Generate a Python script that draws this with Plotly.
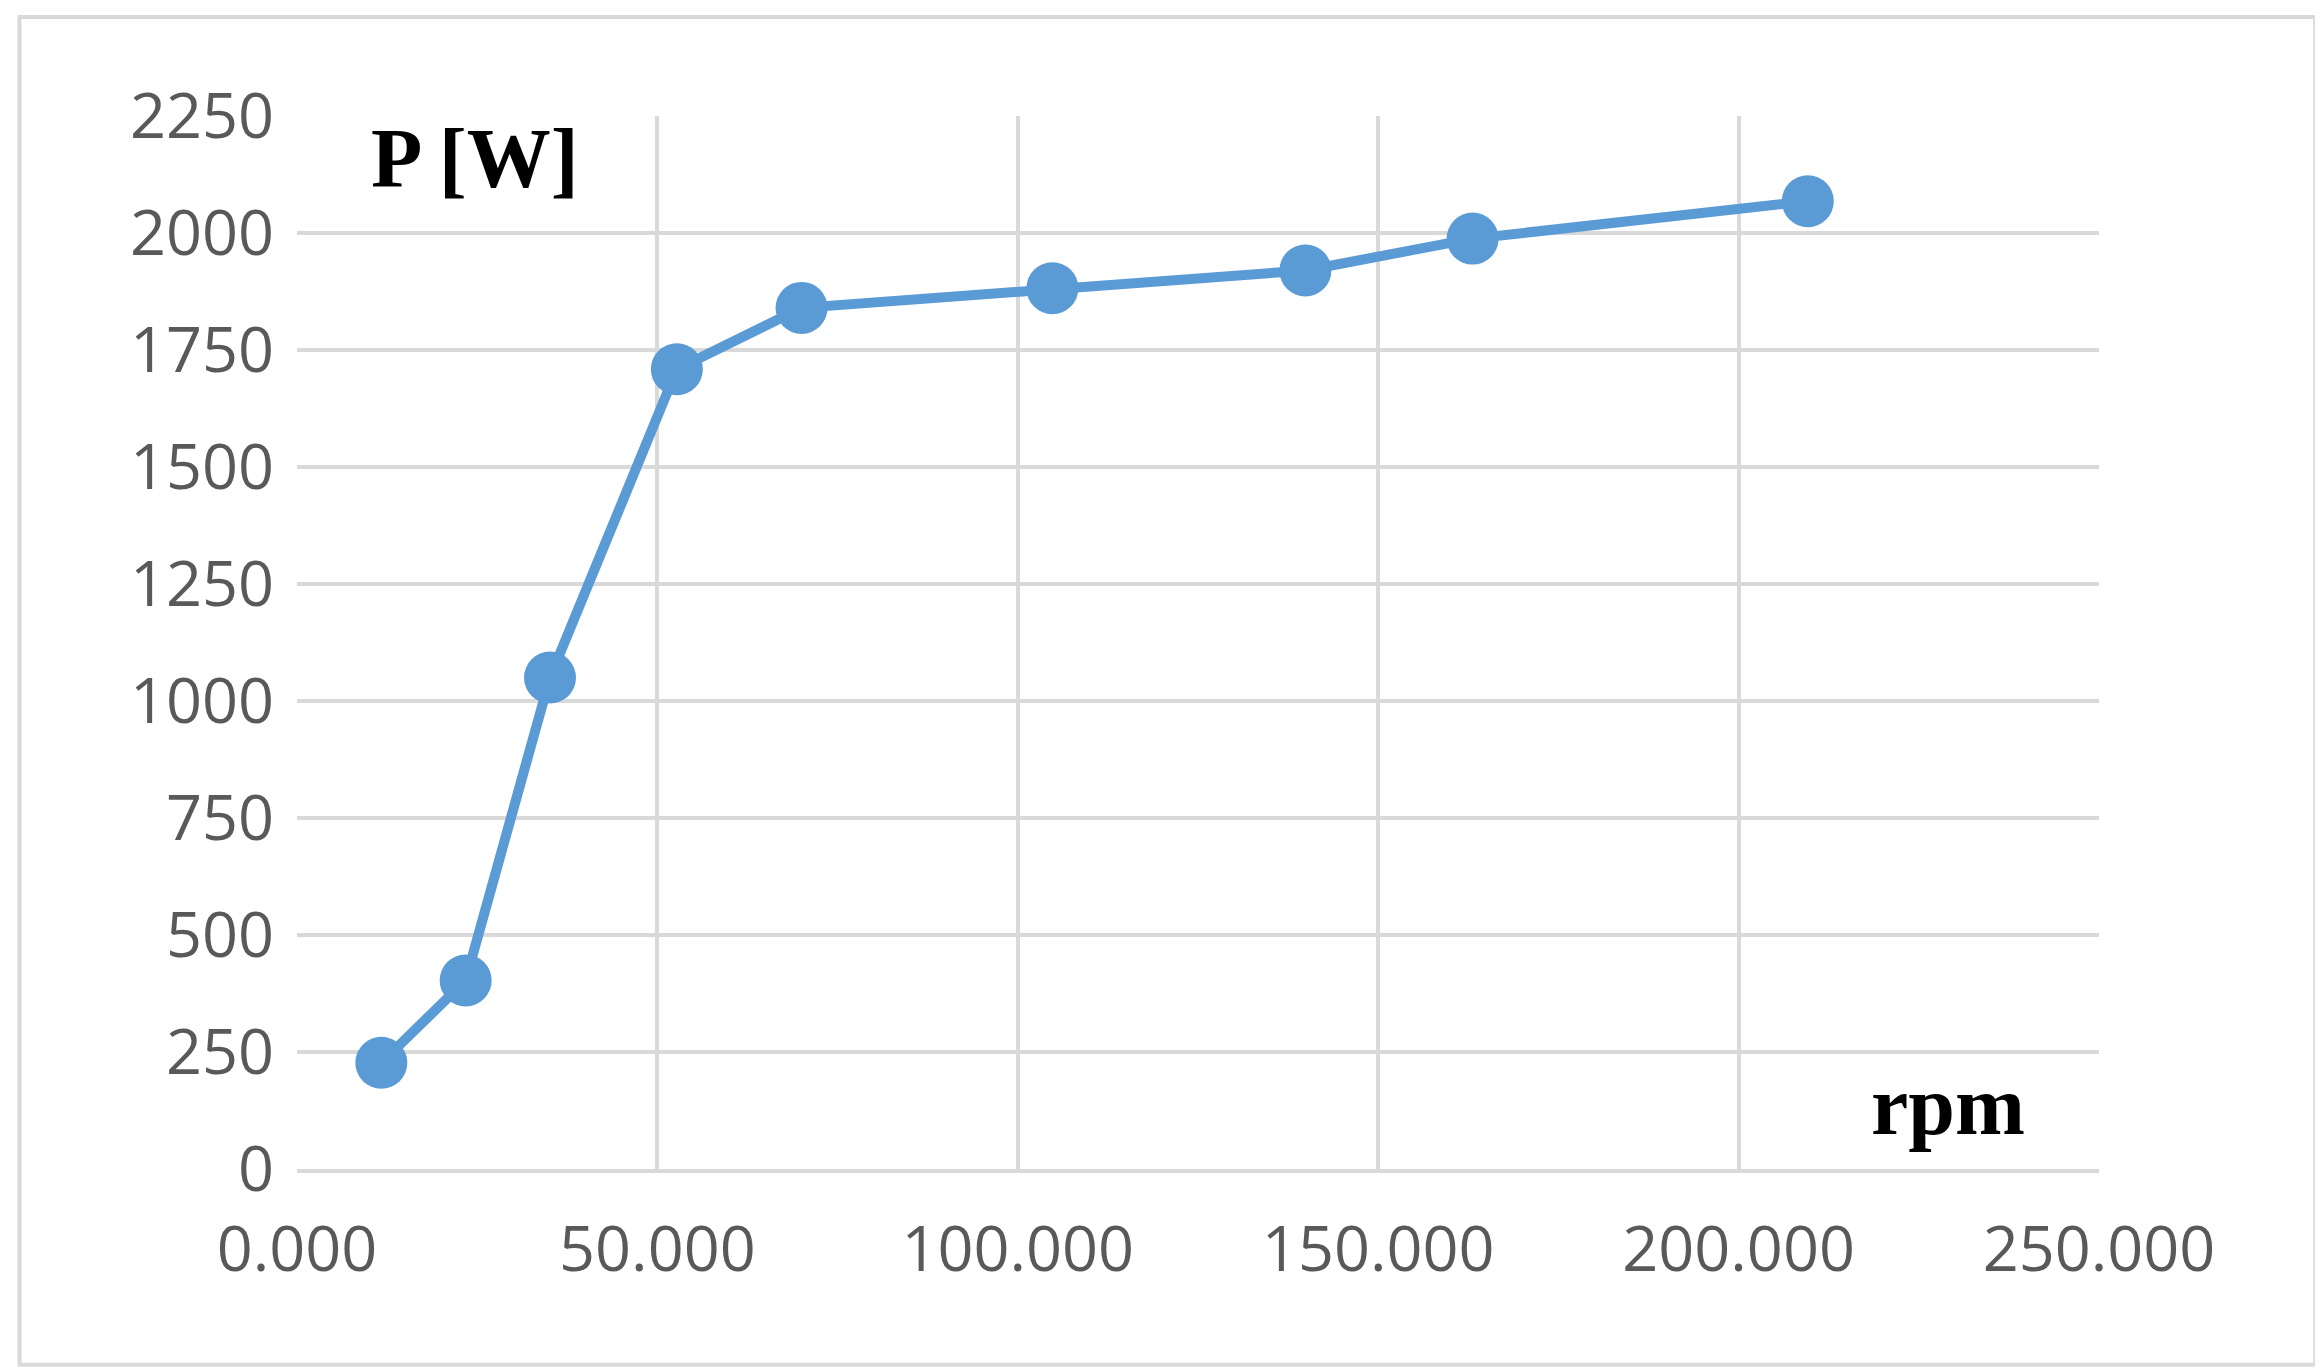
import plotly.graph_objects as go

rpm = [11.7, 23.4, 35.1, 52.7, 70.0, 104.8, 139.9, 163.1, 209.6]
power = [227, 403, 1050, 1709, 1840, 1882, 1920, 1988, 2068]

x_ticks = [0, 50, 100, 150, 200, 250]
x_labels = ["0.000", "50.000", "100.000", "150.000", "200.000", "250.000"]
y_ticks = [0, 250, 500, 750, 1000, 1250, 1500, 1750, 2000, 2250]

blue = "#5b9bd5"
grid = "#d9d9d9"
tick_font = dict(family="Open Sans, Liberation Sans", size=63, color="#595959")

fig = go.Figure()
fig.add_trace(go.Scatter(x=rpm, y=power, mode="lines+markers",
                         line=dict(color=blue, width=10),
                         marker=dict(color=blue, size=52)))

fig.update_layout(
    width=2323, height=1367,
    paper_bgcolor="white", plot_bgcolor="white",
    margin=dict(l=289, r=232, t=108, b=206),
    showlegend=False,
    xaxis=dict(range=[0, 250], tickvals=x_ticks, ticktext=x_labels,
               showgrid=True, gridcolor=grid, gridwidth=4,
               showline=True, linecolor=grid, linewidth=4,
               zeroline=False, tickfont=tick_font, ticks="",
               ticklabelstandoff=22),
    yaxis=dict(range=[0, 2250], tickvals=y_ticks,
               showgrid=True, gridcolor=grid, gridwidth=4,
               zeroline=False, tickfont=tick_font, ticklabelstandoff=22),
    annotations=[
        dict(text="<b>P [W]</b>", xref="paper", yref="paper", x=0.04, y=0.96,
             xanchor="left", yanchor="middle", showarrow=False,
             font=dict(family="Liberation Serif", size=84, color="black")),
        dict(text="<b>rpm</b>", xref="paper", yref="paper", x=0.96, y=0.06,
             xanchor="right", yanchor="middle", showarrow=False,
             font=dict(family="Liberation Serif", size=84, color="black")),
    ],
    shapes=[dict(type="rect", xref="paper", yref="paper",
                 x0=-0.154, x1=1.12, y0=-0.186, y1=1.094,
                 line=dict(color=grid, width=4))],
)

fig.write_html("out.html")
